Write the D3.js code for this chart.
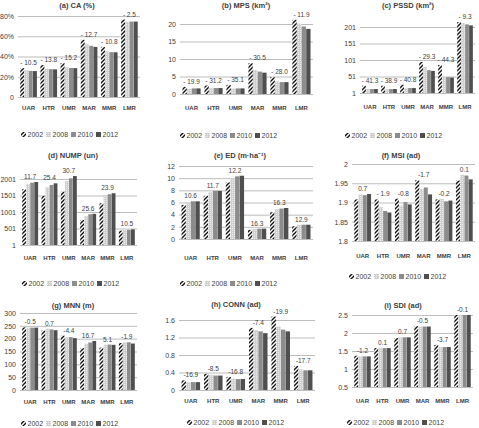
<!DOCTYPE html>
<html>
<head>
<meta charset="utf-8">
<script src="https://cdn.jsdelivr.net/npm/d3@7"></script>
<style>
  body { margin: 0; background: #fff; }
  text { font-family: "Liberation Sans", Arial, sans-serif; fill: #404040; }
</style>
</head>
<body>
<script>
// categorias y series
const categories = ["UAR", "HTR", "UMR", "MAR", "MMR", "LMR"];
const years = ["2002", "2008", "2010", "2012"];

// valores por panel: una fila por año, una columna por categoria
const caValues = [
  [28.5, 31.5, 33.5, 56.5, 49.5, 76.5],
  [26.5, 28, 29.5, 52.5, 45, 74.5],
  [25.8, 27.5, 28.7, 50.5, 44.3, 74.5],
  [25.6, 27.3, 28.5, 49.5, 44.2, 74.5]
];
const mpsValues = [
  [2.0, 2.4, 2.6, 8.8, 4.8, 21.2],
  [1.5, 1.7, 1.6, 6.9, 3.6, 20.1],
  [1.6, 1.7, 1.6, 6.4, 3.4, 19.3],
  [1.6, 1.7, 1.6, 6.1, 3.4, 18.6]
];
const pssdValues = [
  [23, 23, 26, 95, 86, 216],
  [13, 13, 16, 80, 50, 213],
  [13, 13, 16, 70, 49, 209],
  [13, 13, 16, 68, 48, 206]
];
const numpValues = [
  [1690, 1490, 1620, 760, 1265, 435],
  [1850, 1750, 1940, 880, 1515, 455],
  [1890, 1820, 2020, 935, 1540, 460],
  [1910, 1870, 2090, 945, 1570, 475]
];
const edValues = [
  [5.6, 7.1, 9.3, 1.5, 4.4, 2.1],
  [5.9, 7.7, 10.0, 1.65, 4.9, 2.35],
  [6.2, 7.9, 10.3, 1.7, 5.0, 2.35],
  [6.2, 7.9, 10.4, 1.7, 5.1, 2.35]
];
const msiValues = [
  [1.908, 1.908, 1.910, 1.958, 1.908, 1.957],
  [1.921, 1.888, 1.892, 1.935, 1.909, 1.972],
  [1.919, 1.878, 1.901, 1.939, 1.903, 1.970],
  [1.922, 1.874, 1.895, 1.921, 1.905, 1.960]
];
const mnnValues = [
  [244, 232, 212, 163, 165, 183],
  [243, 239, 206, 180, 177, 186],
  [243, 236, 206, 185, 177, 186],
  [243, 233, 202, 191, 176, 181]
];
const connValues = [
  [0.22, 0.37, 0.30, 1.42, 1.68, 0.55],
  [0.18, 0.34, 0.26, 1.37, 1.45, 0.47],
  [0.18, 0.33, 0.25, 1.34, 1.38, 0.45],
  [0.18, 0.33, 0.25, 1.30, 1.34, 0.45]
];
const sdiValues = [
  [1.37, 1.58, 1.86, 2.19, 1.67, 2.5],
  [1.35, 1.58, 1.88, 2.18, 1.61, 2.5],
  [1.35, 1.58, 1.88, 2.18, 1.61, 2.5],
  [1.35, 1.58, 1.88, 2.18, 1.61, 2.5]
];

// etiquetas de cambio (%) sobre cada grupo
const caChanges = ["- 10.5", "- 13.8", "- 15.2", "- 12.7", "- 10.8", "- 2.5"];
const mpsChanges = ["- 19.9", "- 31.2", "- 35.1", "- 30.5", "- 28.0", "- 11.9"];
const pssdChanges = ["- 41.3", "- 38.9", "- 40.8", "- 29.3", "- 44.3", "- 9.3"];
const numpChanges = ["11.7", "25.4", "30.7", "25.6", "23.9", "10.5"];
const edChanges = ["10.6", "11.7", "12.2", "16.3", "16.3", "12.9"];
const msiChanges = ["0.7", "- 1.9", "-0.8", "-1.7", "-0.2", "0.1"];
const mnnChanges = ["-0.5", "0.7", "-4.4", "16.7", "5.1", "-1.9"];
const connChanges = ["-16.9", "-8.5", "-16.8", "-7.4", "-19.9", "-17.7"];
const sdiChanges = ["-1.2", "0.1", "0.7", "-0.5", "-3.7", "-0.1"];

// ticks de los ejes y
const caTicks = [0, 20, 40, 60, 80];
const caTickLabels = ["0", "20%", "40%", "60%", "80%"];
const mpsTicks = [0, 5, 10, 15, 20];
const pssdTicks = [1, 51, 101, 151, 201];
const numpTicks = [1, 501, 1001, 1501, 2001];
const edTicks = [0, 2, 4, 6, 8, 10, 12];
const msiTicks = [1.8, 1.85, 1.9, 1.95, 2];
const mnnTicks = [0, 50, 100, 150, 200, 250, 300];
const connTicks = [0, 0.4, 0.8, 1.2, 1.6];
const sdiTicks = [0.5, 1, 1.5, 2, 2.5];

// configuracion de cada panel (posiciones en pixeles)
const panels = [
  { title: "(a) CA (%)", values: caValues, changes: caChanges, ticks: caTicks, labels: caTickLabels,
    x0: 18, x1: 140, yTop: 16, yBottom: 97, titleX: 77, titleY: 8, catY: 110, legX: 21, legY: 135 },
  { title: "(b) MPS (km²)", values: mpsValues, changes: mpsChanges, ticks: mpsTicks,
    x0: 180, x1: 313, yTop: 24, yBottom: 94, titleX: 246, titleY: 8, catY: 110, legX: 180, legY: 136 },
  { title: "(c) PSSD (km²)", values: pssdValues, changes: pssdChanges, ticks: pssdTicks,
    x0: 360, x1: 475, yTop: 27, yBottom: 93, titleX: 408, titleY: 8, catY: 109, legX: 345, legY: 136 },
  { title: "(d) NUMP (un)", values: numpValues, changes: numpChanges, ticks: numpTicks,
    x0: 20, x1: 137, yTop: 179, yBottom: 245, titleX: 73, titleY: 158, catY: 260, legX: 22, legY: 284 },
  { title: "(e) ED (m·ha⁻¹)", values: edValues, changes: edChanges, ticks: edTicks,
    x0: 179, x1: 313, yTop: 166, yBottom: 239, titleX: 240, titleY: 158, catY: 260, legX: 180, legY: 284 },
  { title: "(f) MSI (ad)", values: msiValues, changes: msiChanges, ticks: msiTicks,
    x0: 352, x1: 475, yTop: 164, yBottom: 241, titleX: 401, titleY: 158, catY: 258, legX: 349, legY: 277 },
  { title: "(g) MNN (m)", values: mnnValues, changes: mnnChanges, ticks: mnnTicks,
    x0: 20, x1: 137, yTop: 313, yBottom: 390, titleX: 73, titleY: 308, catY: 404, legX: 21, legY: 424 },
  { title: "(h) CONN (ad)", values: connValues, changes: connChanges, ticks: connTicks,
    x0: 179, x1: 315, yTop: 320, yBottom: 390, titleX: 236, titleY: 307, catY: 403, legX: 187, legY: 423 },
  { title: "(i) SDI (ad)", values: sdiValues, changes: sdiChanges, ticks: sdiTicks,
    x0: 352, x1: 473, yTop: 315, yBottom: 387, titleX: 403, titleY: 308, catY: 403, legX: 347, legY: 423 }
];

const svg = d3.select("body")
  .append("svg")
  .attr("width", 479)
  .attr("height", 428);

// patrones de relleno
const defs = svg.append("defs");

const hatch = defs.append("pattern")
  .attr("id", "hatch")
  .attr("patternUnits", "userSpaceOnUse")
  .attr("width", 4)
  .attr("height", 4);
hatch.append("rect").attr("width", 4).attr("height", 4).attr("fill", "#fff");
hatch.append("path")
  .attr("d", "M-1,1 L1,-1 M0,4 L4,0 M3,5 L5,3")
  .attr("stroke", "#111")
  .attr("stroke-width", 1.4);

const dots = defs.append("pattern")
  .attr("id", "dots")
  .attr("patternUnits", "userSpaceOnUse")
  .attr("width", 2)
  .attr("height", 2);
dots.append("rect").attr("width", 2).attr("height", 2).attr("fill", "#cfcfcf");
dots.append("rect").attr("width", 1).attr("height", 1).attr("fill", "#ececec");

const fills = ["url(#hatch)", "url(#dots)", "#8c8c8c", "#4f4f4f"];

panels.forEach(p => {
  const g = svg.append("g");

  // titulo
  g.append("text")
    .attr("x", p.titleX)
    .attr("y", p.titleY)
    .attr("text-anchor", "middle")
    .style("font-size", "7.5px")
    .style("font-weight", "bold")
    .text(p.title);

  // escalas
  const y = d3.scaleLinear()
    .domain([p.ticks[0], p.ticks[p.ticks.length - 1]])
    .range([p.yBottom, p.yTop]);

  const x = d3.scaleBand()
    .domain(categories)
    .range([p.x0, p.x1])
    .paddingInner(0.15)
    .paddingOuter(0.1);

  const xs = d3.scaleBand()
    .domain(years)
    .range([0, x.bandwidth()])
    .padding(0.06);

  // eje y con lineas de cuadricula
  const yAxis = d3.axisLeft(y)
    .tickValues(p.ticks)
    .tickSize(-(p.x1 - p.x0))
    .tickPadding(4)
    .tickFormat((d, i) => p.labels ? p.labels[i] : d3.format("")(d));

  const ya = g.append("g")
    .attr("transform", `translate(${p.x0},0)`)
    .call(yAxis);
  ya.select(".domain").remove();
  ya.selectAll("line").attr("stroke", "#bdbdbd").attr("stroke-width", 1);
  ya.selectAll("text")
    .style("font-size", "7px")
    .style("font-family", "'Liberation Sans', Arial, sans-serif")
    .attr("fill", "#404040");

  // barras
  years.forEach((yr, s) => {
    g.selectAll(null)
      .data(categories)
      .enter()
      .append("rect")
      .attr("x", (c) => x(c) + xs(yr))
      .attr("y", (c, i) => y(p.values[s][i]))
      .attr("width", xs.bandwidth())
      .attr("height", (c, i) => p.yBottom - y(p.values[s][i]))
      .attr("fill", fills[s]);
  });

  // etiquetas de cambio
  g.selectAll(null)
    .data(categories)
    .enter()
    .append("text")
    .attr("x", (c) => x(c) + x.bandwidth() / 2)
    .attr("y", (c, i) => y(d3.max(p.values, v => v[i])) - 3)
    .attr("text-anchor", "middle")
    .style("font-size", "6.5px")
    .text((c, i) => p.changes[i]);

  // etiquetas de categoria
  g.selectAll(null)
    .data(categories)
    .enter()
    .append("text")
    .attr("x", (c) => x(c) + x.bandwidth() / 2)
    .attr("y", p.catY)
    .attr("text-anchor", "middle")
    .style("font-size", "6px")
    .style("font-weight", "bold")
    .text(c => c);

  // leyenda
  const leg = g.selectAll(null)
    .data(years)
    .enter()
    .append("g")
    .attr("transform", (d, i) => `translate(${p.legX + i * 25},${p.legY})`);
  leg.append("rect")
    .attr("x", 0)
    .attr("y", -3)
    .attr("width", 5)
    .attr("height", 5)
    .attr("fill", (d, i) => fills[i]);
  leg.append("text")
    .attr("x", 6.5)
    .attr("y", 2)
    .style("font-size", "7px")
    .text(d => d);
});
</script>
</body>
</html>
